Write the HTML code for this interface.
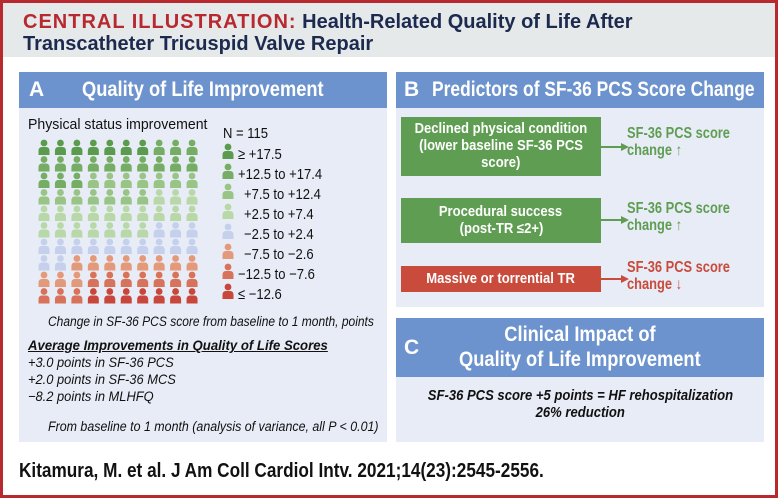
<!DOCTYPE html>
<html><head><meta charset="utf-8"><style>
*{margin:0;padding:0;box-sizing:border-box}
body{width:778px;height:498px;overflow:hidden;background:#fff;font-family:"Liberation Sans",sans-serif;position:relative}
.abs{position:absolute}
.sx{display:inline-block;transform-origin:0 0;white-space:nowrap}
.sc{display:inline-block;transform-origin:50% 0;white-space:nowrap}
#frame{left:0;top:0;width:778px;height:498px;border:3px solid #b8282f}
#hdr{left:3px;top:3px;width:772px;height:54px;background:#e5e9e9}
.t{font-weight:bold;font-size:20px;color:#1d2a4f;white-space:nowrap}
.ph{background:#6c93cd;color:#fff;font-weight:bold;font-size:21px}
.pb{background:#e8ecf6}
.gbox{background:#5f9e52;color:#fff;font-weight:bold;font-size:14.5px;text-align:center;line-height:17px;display:flex;align-items:center;justify-content:center}
.res{font-weight:bold;font-size:15.5px;line-height:17px}
.it{font-style:italic;font-size:14px;color:#111;white-space:nowrap}
</style></head><body>
<div class="abs" id="frame"></div>
<div class="abs" id="hdr"></div>
<div class="abs t" style="left:23px;top:11px"><span class="sx" style="transform:scaleX(1.0)"><span style="color:#b8282f;letter-spacing:1px">CENTRAL ILLUSTRATION:</span> Health-Related Quality of Life After</span></div>
<div class="abs t" style="left:23px;top:33px"><span class="sx" style="transform:scaleX(1.0)">Transcatheter Tricuspid Valve Repair</span></div>

<div class="abs ph" style="left:19px;top:72px;width:368px;height:36px"><span class="abs" style="left:10px;top:6px">A</span><span class="abs sx" style="left:63px;top:6px;transform:scaleX(0.87)">Quality of Life Improvement</span></div>
<div class="abs pb" style="left:19px;top:108px;width:368px;height:334px"></div>

<div class="abs ph" style="left:396px;top:72px;width:368px;height:36px"><span class="abs" style="left:8px;top:6px">B</span><span class="abs sx" style="left:36px;top:6px;transform:scaleX(0.83)">Predictors of SF-36 PCS Score Change</span></div>
<div class="abs pb" style="left:396px;top:108px;width:368px;height:199px"></div>

<div class="abs ph" style="left:396px;top:318px;width:368px;height:59px"><span class="abs" style="left:8px;top:18px">C</span><div class="abs" style="left:0;top:4px;width:368px;text-align:center;line-height:25px"><span class="sc" style="transform:scaleX(0.87)">Clinical Impact of</span><br><span class="sc" style="transform:scaleX(0.87)">Quality of Life Improvement</span></div></div>
<div class="abs pb" style="left:396px;top:377px;width:368px;height:65px"></div>
<div class="abs it" style="left:396px;top:387px;width:368px;text-align:center;font-weight:bold;line-height:17px;font-size:15px"><span class="sc" style="transform:scaleX(0.87)">SF-36 PCS score +5 points = HF rehospitalization</span><br><span class="sc" style="transform:scaleX(0.87)">26% reduction</span></div>

<div class="abs gbox" style="left:401px;top:117px;width:200px;height:59px"><div><span class="sc" style="transform:scaleX(0.9)">Declined physical condition</span><br><span class="sc" style="transform:scaleX(0.9)">(lower baseline SF-36 PCS</span><br><span class="sc" style="transform:scaleX(0.9)">score)</span></div></div>
<div class="abs gbox" style="left:401px;top:198px;width:200px;height:45px"><div><span class="sc" style="transform:scaleX(0.9)">Procedural success</span><br><span class="sc" style="transform:scaleX(0.9)">(post-TR ≤2+)</span></div></div>
<div class="abs gbox" style="left:401px;top:266px;width:200px;height:26px;background:#c84b3c"><span class="sc" style="transform:scaleX(0.9)">Massive or torrential TR</span></div>
<svg class="abs" style="left:600px;top:110px" width="30" height="200">
<g stroke-width="2"><line x1="1" y1="37" x2="22" y2="37" stroke="#5f9e52"/><line x1="1" y1="110" x2="22" y2="110" stroke="#5f9e52"/><line x1="1" y1="169" x2="22" y2="169" stroke="#c84b3c"/></g>
<polygon points="21,33 29,37 21,41" fill="#5f9e52"/><polygon points="21,106 29,110 21,114" fill="#5f9e52"/><polygon points="21,165 29,169 21,173" fill="#c84b3c"/></svg>
<div class="abs res" style="left:627px;top:125px;color:#5f9e52"><span class="sx" style="transform:scaleX(0.83)">SF-36 PCS score<br>change ↑</span></div>
<div class="abs res" style="left:627px;top:200px;color:#5f9e52"><span class="sx" style="transform:scaleX(0.83)">SF-36 PCS score<br>change ↑</span></div>
<div class="abs res" style="left:627px;top:259px;color:#c84b3c"><span class="sx" style="transform:scaleX(0.83)">SF-36 PCS score<br>change ↓</span></div>

<div class="abs" style="left:28px;top:116px;font-size:15px;color:#111"><span class="sx" style="transform:scaleX(0.94)">Physical status improvement</span></div>
<svg class="abs" id="picto" style="left:0;top:0" width="390" height="320"></svg>
<div class="abs it" style="left:48px;top:314px;font-size:13.5px"><span class="sx" style="transform:scaleX(0.89)">Change in SF-36 PCS score from baseline to 1 month, points</span></div>
<div class="abs it" style="left:28px;top:337px;font-weight:bold;text-decoration:underline"><span class="sx" style="transform:scaleX(0.94);text-decoration:underline">Average Improvements in Quality of Life Scores</span></div>
<div class="abs it" style="left:28px;top:354px"><span class="sx" style="transform:scaleX(0.92)">+3.0 points in SF-36 PCS</span></div>
<div class="abs it" style="left:28px;top:371px"><span class="sx" style="transform:scaleX(0.92)">+2.0 points in SF-36 MCS</span></div>
<div class="abs it" style="left:28px;top:388px"><span class="sx" style="transform:scaleX(0.92)">−8.2 points in MLHFQ</span></div>
<div class="abs it" style="left:48px;top:419px;font-size:13.5px"><span class="sx" style="transform:scaleX(0.92)">From baseline to 1 month (analysis of variance, all P &lt; 0.01)</span></div>

<div class="abs" style="left:19px;top:460px;font-size:20px;font-weight:bold;color:#111"><span class="sx" style="transform:scaleX(0.86)">Kitamura, M. et al. J Am Coll Cardiol Intv. 2021;14(23):2545-2556.</span></div>

<script>
const categories = ["≥ +17.5","+12.5 to +17.4","+7.5 to +12.4","+2.5 to +7.4","−2.5 to +2.4","−7.5 to −2.6","−12.5 to −7.6","≤ −12.6"];
const counts = [7, 16, 14, 20, 15, 11, 10, 7];
const colors = ["#5b9b4e","#74ad63","#98c486","#b9d8a8","#c4d0ec","#e3997a","#d8725a","#c9473a"];
const NLABEL = "N = 115";
const svg = document.getElementById('picto');
const NS = "http://www.w3.org/2000/svg";
const cols = 10, x0 = 44, dx = 16.45, y0 = 143, dy = 16.5;
function person(cx, cy, fill, name){
  const g = document.createElementNS(NS,'g');
  
  
  const c = document.createElementNS(NS,'circle');
  c.setAttribute('cx',cx);c.setAttribute('cy',cy);c.setAttribute('r',3.4);c.setAttribute('fill',fill);
  const p = document.createElementNS(NS,'path');
  p.setAttribute('d',`M${cx-5.5},${cy+12} L${cx-5.5},${cy+8} Q${cx-5.5},${cy+4} ${cx-2},${cy+4} L${cx+2},${cy+4} Q${cx+5.5},${cy+4} ${cx+5.5},${cy+8} L${cx+5.5},${cy+12} Z`);
  p.setAttribute('fill',fill);
  g.appendChild(c);g.appendChild(p);svg.appendChild(g);
}
let idx = 0;
counts.forEach((n, k) => {
  for (let i = 0; i < n; i++, idx++) {
    const r = Math.floor(idx / cols), c = idx % cols;
    person(x0 + c * dx, y0 + r * dy, colors[k], 'person-icon');
  }
});
function label(x, y, str, name){
  const t = document.createElementNS(NS,'text');
  t.setAttribute('x',0);t.setAttribute('y',0);
  t.setAttribute('transform',`translate(${x},${y}) scale(0.87,1)`);
  t.setAttribute('font-size',15);t.setAttribute('fill','#111');
  t.setAttribute('font-family','"Liberation Sans",sans-serif');
  t.textContent = str;
  
  
  svg.appendChild(t);
}
label(223, 138, NLABEL, 'n-label');
categories.forEach((lab, k) => {
  const cy = 150 + k * 20;
  person(228, cy - 3, colors[k], 'legend-icon');
  label(238 + (k>=2 && k<=5 ? 6 : 0), cy + 9, lab, 'legend-entry');
});
</script>
</body></html>
